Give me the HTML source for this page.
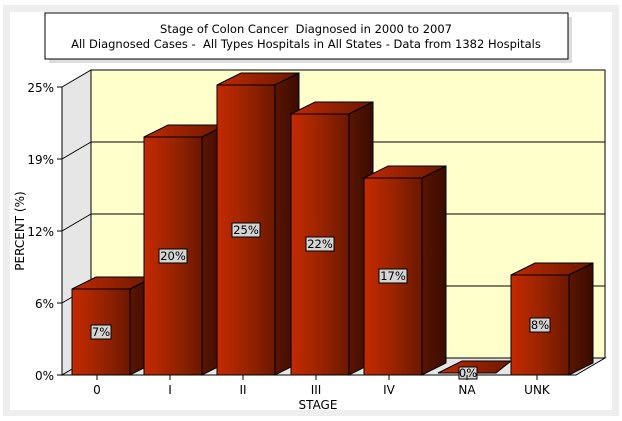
<!DOCTYPE html>
<html><head><meta charset="utf-8"><style>
body{margin:0;background:#fff;}
svg{display:block;font-family:Verdana,"DejaVu Sans",sans-serif;}
</style></head><body>
<svg width="622" height="421" viewBox="0 0 622 421" xmlns="http://www.w3.org/2000/svg">
<defs>
<linearGradient id="fr" x1="0" x2="1" y1="0" y2="0"><stop offset="0" stop-color="#c42a00"/><stop offset="0.5" stop-color="#9a2400"/><stop offset="1" stop-color="#6a1800"/></linearGradient>
<linearGradient id="sd" x1="0" x2="1" y1="0" y2="0"><stop offset="0" stop-color="#5a1500"/><stop offset="1" stop-color="#3a0c00"/></linearGradient>
<linearGradient id="tp" x1="0" x2="1" y1="0" y2="0"><stop offset="0" stop-color="#c02a00"/><stop offset="1" stop-color="#6a1800"/></linearGradient>
</defs>
<rect x="0" y="0" width="622" height="421" fill="#fff"/>
<rect x="3" y="5" width="616" height="411" fill="#eeeeee"/>
<rect x="10" y="12" width="602" height="398" fill="#fff"/>
<!-- title -->
<rect x="49" y="17" width="523" height="46" fill="#dddddd"/>
<rect x="45" y="13" width="523" height="46" fill="#fff" stroke="#000" stroke-width="1"/>
<text x="306" y="33" font-size="11.5" text-anchor="middle">Stage of Colon Cancer&#160; Diagnosed in 2000 to 2007</text>
<text x="306" y="48" font-size="11.5" text-anchor="middle">All Diagnosed Cases -&#160; All Types Hospitals in All States - Data from 1382 Hospitals</text>
<!-- walls -->
<polygon points="62,87 91,70 91,358 62,375" fill="#e6e6e6" stroke="#000" stroke-width="1"/>
<rect x="91" y="70" width="514" height="288" fill="#ffffcc" stroke="#000" stroke-width="1"/>
<polygon points="62,375 91,358 605,358 576,375" fill="#e6e6e6" stroke="#000" stroke-width="1"/>
<g stroke="#000" stroke-width="1">
<line x1="91" y1="142" x2="605" y2="142"/><line x1="62" y1="159" x2="91" y2="142"/>
<line x1="91" y1="214" x2="605" y2="214"/><line x1="62" y1="231" x2="91" y2="214"/>
<line x1="91" y1="286" x2="605" y2="286"/><line x1="62" y1="303" x2="91" y2="286"/>
<line x1="62" y1="87" x2="62" y2="375"/>
<line x1="62" y1="375" x2="576" y2="375"/>
<line x1="57" y1="87" x2="62" y2="87"/><line x1="57" y1="159" x2="62" y2="159"/><line x1="57" y1="231" x2="62" y2="231"/><line x1="57" y1="303" x2="62" y2="303"/><line x1="57" y1="375" x2="62" y2="375"/>
</g>
<g font-size="12" text-anchor="end">
<text x="54" y="92">25%</text><text x="54" y="164">19%</text><text x="54" y="236">12%</text><text x="54" y="308">6%</text><text x="54" y="380">0%</text>
</g>
<text transform="translate(24,231) rotate(-90)" font-size="12" text-anchor="middle">PERCENT (%)</text>
<!-- bars -->
<g stroke="#000" stroke-width="1">
<g><polygon points="72,289 96,277 154,277 130,289" fill="url(#tp)"/><polygon points="130,289 154,277 154,363 130,375" fill="url(#sd)"/><rect x="72" y="289" width="58" height="86" fill="url(#fr)"/></g>
<g><polygon points="144,137 168,125 226,125 202,137" fill="url(#tp)"/><polygon points="202,137 226,125 226,363 202,375" fill="url(#sd)"/><rect x="144" y="137" width="58" height="238" fill="url(#fr)"/></g>
<g><polygon points="217,85 241,73 299,73 275,85" fill="url(#tp)"/><polygon points="275,85 299,73 299,363 275,375" fill="url(#sd)"/><rect x="217" y="85" width="58" height="290" fill="url(#fr)"/></g>
<g><polygon points="291,114 315,102 373,102 349,114" fill="url(#tp)"/><polygon points="349,114 373,102 373,363 349,375" fill="url(#sd)"/><rect x="291" y="114" width="58" height="261" fill="url(#fr)"/></g>
<g><polygon points="364,178 388,166 446,166 422,178" fill="url(#tp)"/><polygon points="422,178 446,166 446,363 422,375" fill="url(#sd)"/><rect x="364" y="178" width="58" height="197" fill="url(#fr)"/></g>
<g><polygon points="438,373 462,361 511,361 496,373" fill="url(#tp)"/></g>
<g><polygon points="511,275 535,263 593,263 569,275" fill="url(#tp)"/><polygon points="569,275 593,263 593,363 569,375" fill="url(#sd)"/><rect x="511" y="275" width="58" height="100" fill="url(#fr)"/></g>
</g>
<!-- value labels -->
<g font-size="11.5" text-anchor="middle">
<rect x="91" y="325" width="20" height="14" fill="#d4d4d4" stroke="#000"/><text x="101" y="336">7%</text>
<rect x="159" y="249" width="28" height="14" fill="#d4d4d4" stroke="#000"/><text x="173" y="260">20%</text>
<rect x="232" y="223" width="28" height="14" fill="#d4d4d4" stroke="#000"/><text x="246" y="234">25%</text>
<rect x="306" y="237" width="28" height="14" fill="#d4d4d4" stroke="#000"/><text x="320" y="248">22%</text>
<rect x="379" y="269" width="28" height="14" fill="#d4d4d4" stroke="#000"/><text x="393" y="280">17%</text>
<rect x="459" y="367" width="18" height="12" fill="#d4d4d4" stroke="#000"/><text x="468" y="377">0%</text>
<rect x="530" y="318" width="20" height="14" fill="#d4d4d4" stroke="#000"/><text x="540" y="329">8%</text>
</g>
<g stroke="#000"><line x1="97" y1="375" x2="97" y2="380"/><line x1="170" y1="375" x2="170" y2="380"/><line x1="243" y1="375" x2="243" y2="380"/><line x1="316" y1="375" x2="316" y2="380"/><line x1="389" y1="375" x2="389" y2="380"/><line x1="467" y1="375" x2="467" y2="380"/><line x1="537" y1="375" x2="537" y2="380"/></g>
<g font-size="12" text-anchor="middle">
<text x="97" y="394">0</text><text x="170" y="394">I</text><text x="243" y="394">II</text><text x="316" y="394">III</text><text x="389" y="394">IV</text><text x="467" y="394">NA</text><text x="537" y="394">UNK</text>
<text x="318" y="409">STAGE</text>
</g>
</svg>
</body></html>
